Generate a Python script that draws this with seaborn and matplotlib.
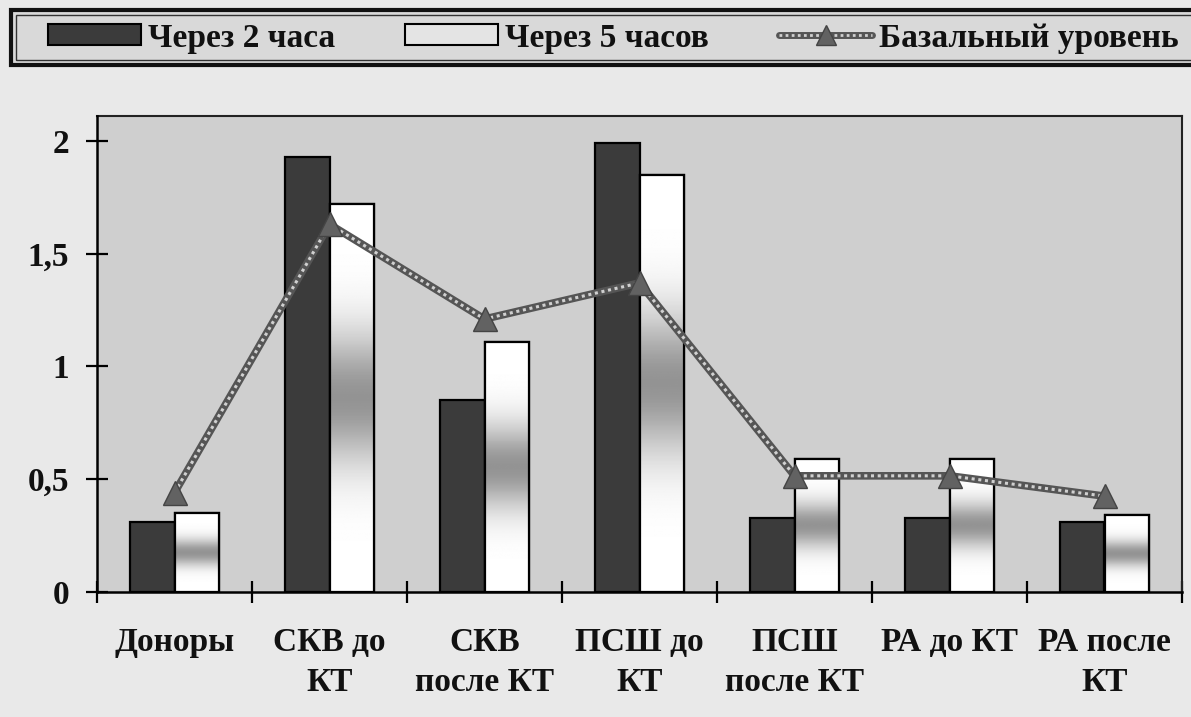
import numpy as np
import pandas as pd
import matplotlib
matplotlib.use("Agg")
import matplotlib.pyplot as plt
import seaborn as sns
from matplotlib.patches import Patch, Rectangle
from matplotlib.lines import Line2D
from matplotlib.legend_handler import HandlerTuple

categories = ["Доноры", "СКВ до\nКТ", "СКВ\nпосле КТ", "ПСШ до\nКТ", "ПСШ\nпосле КТ", "РА до КТ", "РА после\nКТ"]
after_2h = [0.31, 1.93, 0.85, 1.99, 0.33, 0.33, 0.31]
after_5h = [0.35, 1.72, 1.11, 1.85, 0.59, 0.59, 0.34]
basal = [0.44, 1.63, 1.21, 1.37, 0.515, 0.515, 0.425]
series_names = ["Через 2 часа", "Через 5 часов", "Базальный уровень"]
ytick_values = [0, 0.5, 1, 1.5, 2]
ytick_labels = ["0", "0,5", "1", "1,5", "2"]

sns.set_theme(style="white")
plt.rcParams["font.family"] = ["Liberation Serif", "DejaVu Serif"]
plt.rcParams["font.weight"] = "bold"

W, H = 1191, 717
fig = plt.figure(figsize=(W / 100, H / 100), dpi=100)
fig.patch.set_facecolor("#e9e9e9")
ax = fig.add_axes([97 / W, 1 - 592 / H, (1182 - 97) / W, (592 - 116) / H])
ax.set_facecolor("#cfcfcf")

df = pd.DataFrame({
    "cat": categories * 2,
    "val": after_2h + after_5h,
    "series": [series_names[0]] * len(categories) + [series_names[1]] * len(categories),
})
sns.barplot(data=df, x="cat", y="val", hue="series", order=categories,
            hue_order=series_names[:2],
            palette={series_names[0]: "#3b3b3b", series_names[1]: "white"},
            width=0.57, gap=0, edgecolor="black", linewidth=1.6,
            legend=False, ax=ax, zorder=3)

# gradient fill for the white bars
t = np.linspace(0, 1, 256)
prof = 1 - 0.42 * np.exp(-((t - 0.5) / 0.17) ** 2)
grad = np.repeat(prof[:, None], 2, axis=1)
for p in ax.containers[1]:
    x0, y0 = p.get_x(), p.get_y()
    w, h = p.get_width(), p.get_height()
    ax.imshow(grad, cmap="gray", vmin=0, vmax=1, extent=(x0, x0 + w, y0, y0 + h),
              origin="upper", aspect="auto", zorder=3.2, interpolation="bilinear")
    ax.add_patch(Rectangle((x0, y0), w, h, facecolor="none", edgecolor="black",
                           linewidth=1.6, zorder=3.3))

# basal level line
xs = np.arange(len(categories))
ax.plot(xs, basal, color="#555555", lw=5.5, zorder=4, solid_capstyle="round")
ax.plot(xs, basal, color="#d0d0d0", lw=2.2, ls=(0, (1, 1.2)), zorder=4.1)
ax.plot(xs, basal, ls="none", marker="^", markersize=17, markerfacecolor="#626262",
        markeredgecolor="#444444", markeredgewidth=1, zorder=5)

ax.set_xlim(-0.5, len(categories) - 0.5)
ax.set_ylim(0, 2.11)
ax.set_xlabel("")
ax.set_ylabel("")
ax.set_yticks(ytick_values)
ax.set_yticklabels(ytick_labels)
ax.set_xticks(xs)
ax.set_xticklabels(categories, linespacing=1.4)
ax.set_xticks(np.arange(len(categories) + 1) - 0.5, minor=True)
ax.tick_params(axis="x", which="major", length=0, pad=25, labelsize=24)
ax.tick_params(axis="x", which="minor", length=16, width=1.6, direction="inout", color="black", bottom=True)
ax.tick_params(axis="y", which="major", length=16, width=1.6, direction="inout", color="black",
               left=True, pad=12, labelsize=24)
for lab in ax.get_xticklabels() + ax.get_yticklabels():
    lab.set_fontweight("bold")
    lab.set_color("#111111")

for side in ["left", "bottom"]:
    ax.spines[side].set_color("black")
    ax.spines[side].set_linewidth(1.8)
    ax.spines[side].set_zorder(6)
for side in ["top", "right"]:
    ax.spines[side].set_color("#222222")
    ax.spines[side].set_linewidth(1.5)
    ax.spines[side].set_visible(True)
ax.grid(False)

# legend frame (double border)
fig.patches.append(Rectangle((11 / W, 1 - 65 / H), (W + 20 - 11) / W, 55 / H,
                             transform=fig.transFigure, facecolor="#d9d9d9",
                             edgecolor="#111111", linewidth=3, zorder=1))
fig.patches.append(Rectangle((16 / W, 1 - 60 / H), (W + 20 - 16) / W, 45 / H,
                             transform=fig.transFigure, facecolor="none",
                             edgecolor="#333333", linewidth=1, zorder=1))

h1 = Patch(facecolor="#3b3b3b", edgecolor="black", linewidth=1.5)
h2 = Patch(facecolor="#e4e4e4", edgecolor="black", linewidth=1.5)
l_dark = Line2D([], [], color="#555555", lw=5)
l_light = Line2D([], [], color="#d0d0d0", lw=2, ls=(0, (1, 1.2)))
l_mark = Line2D([], [], ls="none", marker="^", markersize=15, markerfacecolor="#626262",
                markeredgecolor="#444444")
leg = fig.legend([h1, h2, (l_dark, l_light, l_mark)], series_names,
                 handler_map={tuple: HandlerTuple(ndivide=1, pad=0)},
                 loc="center left", bbox_to_anchor=(48 / W, 1 - 38 / H), ncol=3,
                 frameon=False, handlelength=2.8, handleheight=0.6,
                 handletextpad=0.2, columnspacing=2.1, borderpad=0, borderaxespad=0,
                 prop={"weight": "bold", "size": 24})
for txt in leg.get_texts():
    txt.set_color("#111111")

fig.savefig("out.png", dpi=100, facecolor=fig.get_facecolor())
